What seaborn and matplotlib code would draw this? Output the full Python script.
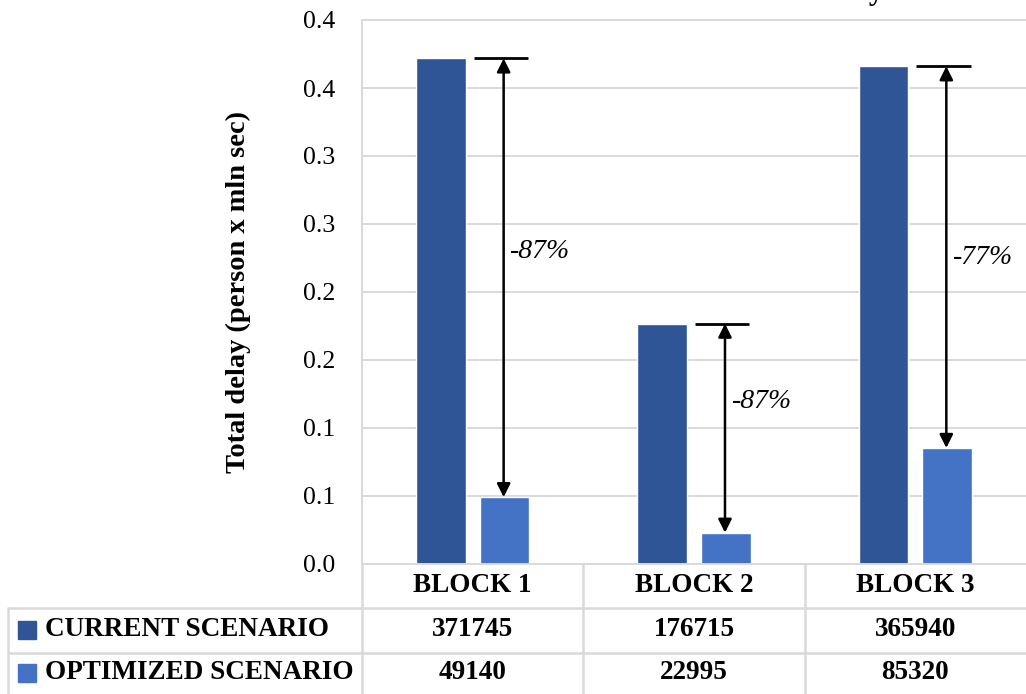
import numpy as np
import pandas as pd
import seaborn as sns
import matplotlib.pyplot as plt
from matplotlib.transforms import blended_transform_factory
from matplotlib.lines import Line2D

# Total delay per block (person x sec)
blocks = ["BLOCK 1", "BLOCK 2", "BLOCK 3"]
current = [371745, 176715, 365940]
optimized = [49140, 22995, 85320]
scenarios = ["CURRENT SCENARIO", "OPTIMIZED SCENARIO"]
colors = ["#2F5597", "#4472C4"]
yticks = [0.0, 0.05, 0.10, 0.15, 0.20, 0.25, 0.30, 0.35, 0.40]
ytick_labels = ["0.0", "0.1", "0.1", "0.2", "0.2", "0.3", "0.3", "0.4", "0.4"]
title = "Total delay"
ylabel = "Total delay (person x mln sec)"

# where each percentage sits along its arrow (0 = bottom, 1 = top)
label_frac = [0.56, 0.63, 0.5]

sns.set_style("white")
plt.rcParams["font.family"] = ["Liberation Serif", "DejaVu Serif"]
plt.rcParams["text.color"] = "black"
plt.rcParams["axes.labelcolor"] = "black"
plt.rcParams["ytick.color"] = "black"

df = pd.DataFrame({
    "block": blocks * 2,
    "scenario": [scenarios[0]] * 3 + [scenarios[1]] * 3,
    "delay": [v / 1e6 for v in current] + [v / 1e6 for v in optimized],
})

fig = plt.figure(figsize=(10.26, 6.94), dpi=100)
ax = fig.add_axes([362 / 1026, 1 - 564 / 694, 664 / 1026, 544 / 694])

sns.barplot(data=df, x="block", y="delay", hue="scenario", hue_order=scenarios,
            palette=colors, saturation=1, width=0.575, gap=0.22,
            legend=False, ax=ax)

grid_c = "#d9d9d9"
ax.set_xlim(-0.5, 2.5)
ax.set_ylim(0, 0.40)
ax.set_yticks(yticks)
ax.set_yticklabels(ytick_labels, fontsize=18.5)
ax.tick_params(axis="y", length=0, pad=19)
ax.set_xticks([])
ax.set_xlabel("")
ax.set_ylabel(ylabel, fontsize=20.5, fontweight="bold")
ax.yaxis.set_label_coords(-0.167, 0.5)
ax.grid(axis="y", color=grid_c, lw=1.4)
ax.set_axisbelow(True)
for side in ["left", "bottom", "top"]:
    ax.spines[side].set_color(grid_c)
    ax.spines[side].set_linewidth(1.4)
ax.spines["right"].set_visible(False)

# reduction arrows between the scenarios
for i, (c, o) in enumerate(zip(current, optimized)):
    cv, ov = c / 1e6, o / 1e6
    ax.hlines(cv, i + 0.005, i + 0.25, color="black", lw=2)
    ax.annotate("", xy=(i + 0.14, ov), xytext=(i + 0.14, cv),
                arrowprops=dict(arrowstyle="<|-|>", color="black", lw=1.8,
                                mutation_scale=20, shrinkA=0, shrinkB=0))
    pct = -round((1 - o / c) * 100)
    ax.text(i + 0.17, ov + (cv - ov) * label_frac[i], f"{pct}%", fontsize=20,
            fontstyle="italic", ha="left", va="center")

# data table under the axis
trans = blended_transform_factory(ax.transData, ax.transAxes)
ax_tr = ax.transAxes
row_lines = [-0.0809, -0.1636]
bottom = -0.26
lab_left = -0.533
for y in row_lines:
    ax.add_line(Line2D([lab_left, 1.0], [y, y], transform=ax_tr, color=grid_c,
                       lw=1.8, clip_on=False))
ax.add_line(Line2D([lab_left, lab_left], [row_lines[0], bottom], transform=ax_tr,
                   color=grid_c, lw=1.8, clip_on=False))
for xb in [-0.5, 0.5, 1.5]:
    ax.add_line(Line2D([xb, xb], [0, bottom], transform=trans, color=grid_c,
                       lw=1.8, clip_on=False))

tfs = 19.5
for i, b in enumerate(blocks):
    ax.text(i, -0.0404, b, transform=trans, ha="center", va="center",
            fontsize=tfs, fontweight="bold")
    ax.text(i, -0.121, str(current[i]), transform=trans, ha="center",
            va="center", fontsize=tfs, fontweight="bold")
    ax.text(i, -0.200, str(optimized[i]), transform=trans, ha="center",
            va="center", fontsize=tfs, fontweight="bold")

for y, name, col in zip([-0.121, -0.200], scenarios, colors):
    ax.plot([-0.504], [y], marker="s", ms=13, color=col, transform=ax_tr,
            clip_on=False)
    ax.text(-0.478, y, name, transform=ax_tr, ha="left", va="center",
            fontsize=tfs, fontweight="bold")

fig.text(884 / 1026, 1.002, title, ha="right", va="baseline",
         fontsize=22, fontweight="bold")

fig.savefig("out.png", dpi=100)
